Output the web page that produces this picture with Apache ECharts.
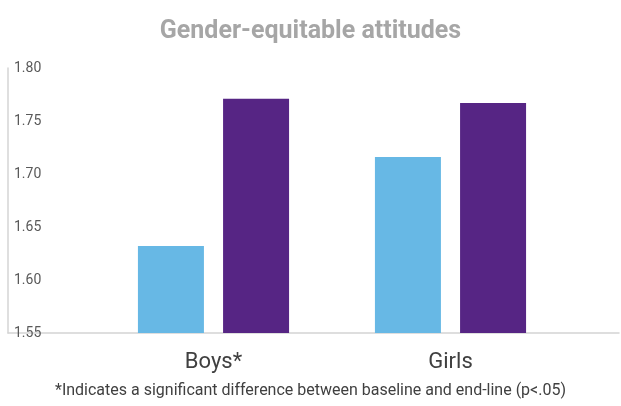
<!DOCTYPE html>
<html>
<head>
<meta charset="utf-8">
<script src="https://cdn.jsdelivr.net/npm/echarts@6/dist/echarts.min.js"></script>
<style>
  html, body { margin: 0; padding: 0; background: #fff; }
  #main { width: 621px; height: 406px; }
</style>
</head>
<body>
<div id="main"></div>
<script>
  // data
  var categories = ['Boys*', 'Girls'];
  var baseline = [1.632, 1.716];
  var endline = [1.771, 1.767];
  var yMin = 1.55, yMax = 1.80, yStep = 0.05;

  var font = 'Roboto, "DejaVu Sans", sans-serif';
  var myChart = echarts.init(document.getElementById('main'));

  var option = {
    animation: false,
    title: [{
      text: 'Gender-equitable attitudes',
      left: 'center',
      top: 14,
      textStyle: { fontFamily: font, fontSize: 25, fontWeight: 'bold', color: '#a6a6a6' }
    }, {
      text: '*Indicates a significant difference between baseline and end-line (p<.05)',
      left: 'center',
      top: 378,
      textStyle: { fontFamily: font, fontSize: 16, fontWeight: 'normal', color: '#404040' }
    }],
    grid: [
      // frame with the axis lines and the y labels
      { left: 8, right: 2, top: 68, bottom: 73 },
      // area holding the bars
      { left: 95, right: 52, top: 68, bottom: 73 }
    ],
    xAxis: [{
      gridIndex: 0,
      type: 'value',
      min: 0, max: 1,
      axisLine: { show: true, lineStyle: { color: '#d4d4d4', width: 1.5 } },
      axisTick: { show: false },
      axisLabel: { show: false },
      splitLine: { show: false }
    }, {
      gridIndex: 1,
      type: 'category',
      data: categories,
      axisLine: { show: false },
      axisTick: { show: false },
      axisLabel: { fontFamily: font, fontSize: 22, color: '#404040', margin: 18 }
    }],
    yAxis: [{
      gridIndex: 0,
      type: 'value',
      min: yMin, max: yMax, interval: yStep,
      axisLine: { show: true, lineStyle: { color: '#d4d4d4', width: 1.5 } },
      axisTick: { show: false },
      splitLine: { show: false },
      axisLabel: {
        inside: true,
        margin: 6,
        padding: [5, 0, 0, 0],
        fontFamily: font,
        fontSize: 14,
        color: '#595959',
        formatter: function (v) { return v.toFixed(2); }
      }
    }, {
      gridIndex: 1,
      type: 'value',
      min: yMin, max: yMax,
      show: false
    }],
    series: [{
      name: 'Baseline',
      type: 'bar',
      xAxisIndex: 1,
      yAxisIndex: 1,
      data: baseline,
      barWidth: 66,
      barGap: '29%',
      itemStyle: { color: '#67b8e5' }
    }, {
      name: 'End-line',
      type: 'bar',
      xAxisIndex: 1,
      yAxisIndex: 1,
      data: endline,
      barWidth: 66,
      barGap: '29%',
      itemStyle: { color: '#562584' }
    }]
  };

  myChart.setOption(option);
</script>
</body>
</html>
